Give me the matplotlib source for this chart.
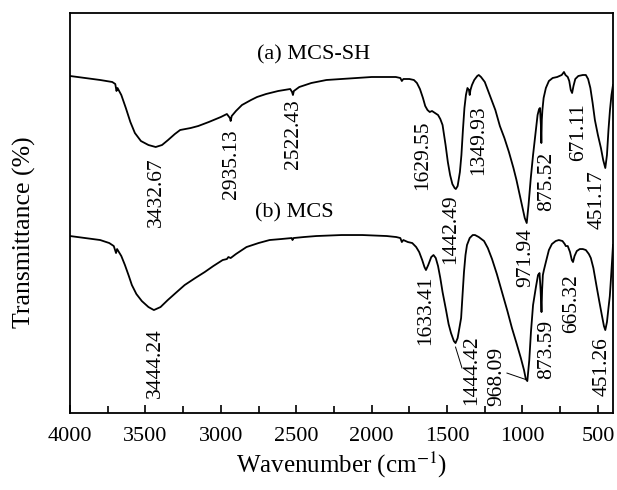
import matplotlib
matplotlib.use("Agg")
import matplotlib.pyplot as plt
from matplotlib.ticker import MultipleLocator

plt.rcParams["font.family"] = ["Liberation Serif", "DejaVu Serif"]
plt.rcParams["mathtext.fontset"] = "stix"

# FTIR spectrum of MCS-SH (upper trace)
wn_a = [4000, 3900, 3800, 3720, 3700, 3692, 3685, 3660, 3630, 3600, 3570, 3530,
        3480, 3432, 3390, 3350, 3305, 3270, 3200, 3150, 3080, 3000, 2960, 2940,
        2935, 2928, 2900, 2860, 2800, 2760, 2700, 2620, 2540, 2528, 2522, 2516,
        2480, 2400, 2300, 2200, 2100, 2000, 1900, 1840, 1810, 1800, 1790, 1750,
        1720, 1700, 1680, 1660, 1645, 1630, 1615, 1600, 1580, 1560, 1545, 1530,
        1510, 1495, 1480, 1465, 1450, 1442, 1430, 1415, 1405, 1395, 1385, 1375,
        1365, 1355, 1350, 1345, 1335, 1320, 1300, 1290, 1275, 1250, 1235, 1210,
        1180, 1150, 1120, 1090, 1060, 1040, 1020, 1000, 985, 972, 960, 945, 930,
        915, 900, 890, 884, 878, 875, 872, 868, 860, 845, 825, 800, 770, 740,
        725, 715, 700, 690, 680, 671, 662, 650, 630, 600, 580, 565, 550, 535,
        520, 500, 480, 465, 451, 440, 430, 420, 410, 400]
tr_a = [84.25, 83.75, 83.25, 82.75, 82.25, 80.5, 81.25, 79.5, 76.25, 72.75, 70.0, 68.0,
        67.0, 66.5, 67.0, 68.25, 69.75, 70.75, 71.25, 71.75, 72.75, 74.0, 74.75, 73.75,
        73.0, 74.25, 75.5, 77.0, 78.25, 79.0, 79.75, 80.5, 81.0, 80.25, 79.5, 80.5,
        81.5, 82.5, 83.25, 83.5, 83.75, 84.0, 84.0, 84.0, 83.75, 83.0, 83.5, 83.5,
        83.25, 82.5, 81.0, 78.75, 76.75, 75.75, 75.25, 75.5, 75.0, 74.5, 73.5, 72.0,
        67.0, 62.75, 59.5, 57.25, 56.25, 56.0, 56.75, 60.25, 64.5, 70.75, 76.25, 79.5,
        81.25, 80.75, 79.5, 80.75, 82.0, 83.25, 84.25, 84.5, 84.0, 82.75, 81.25, 78.75,
        75.75, 71.75, 68.75, 65.25, 61.25, 58.25, 54.75, 51.25, 48.75, 47.5, 52.0, 58.75, 64.5,
        69.5, 74.5, 76.0, 76.25, 72.0, 67.5, 73.25, 75.75, 78.75, 81.25, 83.0, 83.75, 84.0, 84.5,
        85.25, 84.5, 84.0, 83.0, 80.75, 80.0, 81.75, 83.5, 84.25, 84.5, 84.5, 83.5, 81.25, 77.5,
        73.25, 69.5, 66.25, 63.25, 61.25, 64.5, 70.75, 75.75, 79.5, 82.0]

# FTIR spectrum of MCS (lower trace)
wn_b = [4000, 3900, 3800, 3740, 3710, 3695, 3688, 3660, 3636, 3610, 3590, 3560,
        3524, 3480, 3444, 3400, 3352, 3300, 3240, 3170, 3107, 3050, 2988, 2960,
        2950, 2935, 2900, 2830, 2750, 2677, 2600, 2530, 2525, 2518, 2450, 2367,
        2200, 2062, 1900, 1837, 1810, 1800, 1790, 1760, 1731, 1705, 1685, 1665,
        1650, 1640, 1625, 1605, 1590, 1575, 1560, 1545, 1530, 1507, 1490, 1474,
        1455, 1444, 1430, 1415, 1407, 1398, 1388, 1378, 1368, 1350, 1330, 1315,
        1290, 1255, 1230, 1202, 1170, 1136, 1100, 1070, 1040, 1011, 990, 978, 968,
        955, 944, 930, 911, 897, 887, 880, 874, 870, 865, 858, 845, 825, 805, 780,
        759, 735, 720, 713, 700, 685, 673, 665, 655, 640, 620, 600, 580, 560, 547,
        530, 508, 490, 474, 460, 451, 440, 430, 421, 414, 405, 400]
tr_b = [44.25, 43.75, 43.25, 42.5, 41.75, 40.0, 41.0, 39.25, 37.0, 34.25, 32.0, 29.75,
        28.0, 26.5, 25.75, 26.5, 28.25, 30.0, 32.0, 33.75, 35.25, 36.75, 38.25, 38.5,
        39.0, 38.75, 39.75, 41.5, 42.5, 43.25, 43.5, 43.75, 43.25, 43.75, 44.0, 44.25,
        44.5, 44.5, 44.25, 44.0, 43.75, 42.75, 43.25, 42.75, 42.5, 41.5, 40.25, 38.25,
        36.5, 35.75, 37.0, 39.0, 39.5, 38.75, 36.75, 33.75, 30.25, 25.75, 22.25, 20.0,
        18.0, 17.5, 18.75, 22.0, 23.75, 29.25, 35.25, 39.5, 42.0, 43.75, 44.5, 44.5,
        44.0, 43.0, 41.25, 38.5, 34.75, 30.25, 25.5, 21.25, 17.5, 13.75, 10.75, 8.5, 8.0,
        13.25, 20.25, 27.0, 31.5, 34.5, 35.0, 30.75, 25.25, 30.75, 34.5, 35.75, 37.75, 40.75, 42.25, 43.0,
        43.25, 43.0, 42.25, 41.75, 41.75, 40.25, 38.25, 37.75, 39.25, 40.5, 41.0, 41.0, 40.75, 39.75, 38.75,
        36.25, 31.5, 27.75, 24.5, 21.75, 20.75, 22.75, 26.25, 29.25, 33.25, 38.75, 42.0]

# peak annotations: text, x position (cm-1), y position of text centre
labels_a = ["3432.67", "2935.13", "2522.43", "1629.55", "1442.49",
            "1349.93", "971.94", "875.52", "671.11", "451.17"]
lab_x_a = [3425, 2929, 2519, 1665, 1474, 1288, 978, 839, 627, 505]
lab_y_a = [55.25, 62.25, 69.75, 64.5, 46.0, 68.25, 38.75, 58.0, 70.25, 53.25]

labels_b = ["3444.24", "1633.41", "1444.42", "968.09", "873.59", "665.32", "451.26"]
lab_x_b = [3431, 1639, 1335, 1169, 839, 673, 475]
lab_y_b = [12.5, 25.75, 10.75, 9.25, 16.0, 27.25, 11.5]

fig = plt.figure(figsize=(6.17, 4.90), dpi=100)
ax = fig.add_axes([0.1135, 0.157, 0.88, 0.8165])

ax.plot(wn_a, tr_a, color="black", lw=1.3)
ax.plot(wn_b, tr_b, color="black", lw=1.3)

for txt, x, y in zip(labels_a + labels_b, lab_x_a + lab_x_b, lab_y_a + lab_y_b):
    ax.text(x, y, txt, rotation=90, ha="center", va="center", fontsize=15.5)

# leader lines for the two crowded labels
ax.plot([1444, 1401], [16.5, 11.25], color="black", lw=0.7)
ax.plot([1103, 968], [10.0, 8.25], color="black", lw=0.7)

ax.text(2386, 89.5, "(a) MCS-SH", ha="center", va="center", fontsize=16)
ax.text(2512, 50.0, "(b) MCS", ha="center", va="center", fontsize=16)

ax.set_xlim(4000, 400)
ax.set_ylim(0, 100)
ax.xaxis.set_major_locator(MultipleLocator(500))
ax.xaxis.set_minor_locator(MultipleLocator(250))
ax.set_yticks([])
ax.tick_params(axis="x", which="both", direction="in", labelsize=16, pad=10)
ax.tick_params(axis="x", which="major", length=6, width=1.2)
ax.tick_params(axis="x", which="minor", length=5, width=1.2)
for s in ax.spines.values():
    s.set_linewidth(1.3)

ax.set_xlabel(r"Wavenumber (cm$^{-1}$)", fontsize=18, labelpad=3)
ax.set_ylabel("Transmittance (%)", fontsize=18.5)
ax.yaxis.set_label_coords(-0.062, 0.4525)

fig.savefig("out.png", dpi=100)
